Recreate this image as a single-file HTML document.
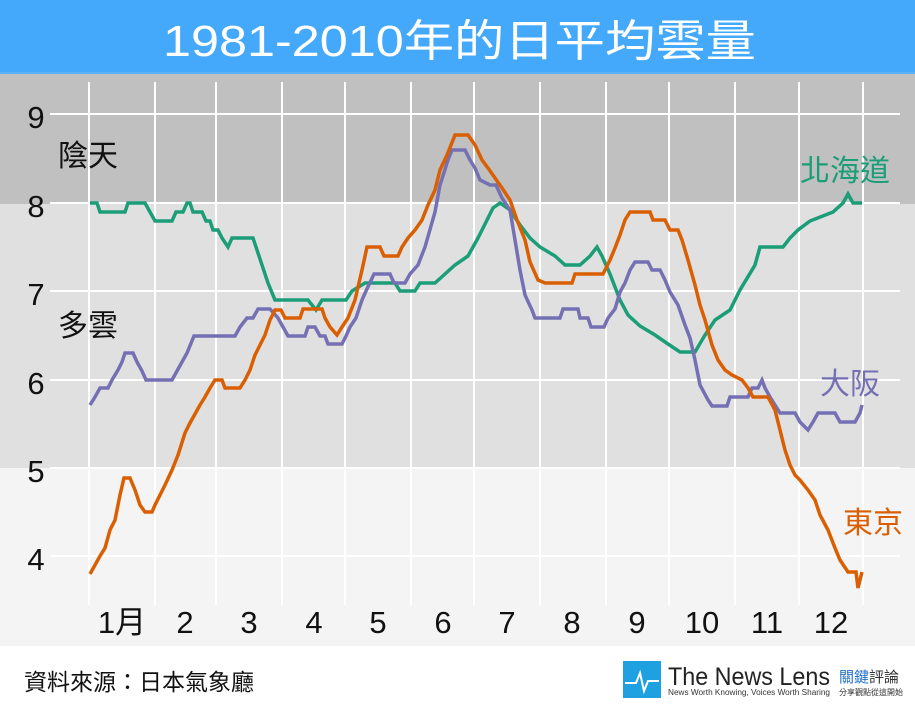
<!DOCTYPE html>
<html><head><meta charset="utf-8"><style>
html,body{margin:0;padding:0;background:#fff;}
svg{display:block;}
text{font-family:"Liberation Sans","Noto Sans CJK TC",sans-serif;}
</style></head><body>
<svg width="915" height="714" viewBox="0 0 915 714" xmlns="http://www.w3.org/2000/svg">
<rect x="0" y="0" width="915" height="73" fill="#44a8fb"/>
<rect x="0" y="72" width="915" height="2" fill="#5ab2f5"/>
<text x="163" y="56" font-size="44" fill="#fff" textLength="593" lengthAdjust="spacingAndGlyphs">1981-2010年的日平均雲量</text>
<rect x="0" y="74" width="915" height="130" fill="#c0c0c0"/>
<rect x="0" y="204" width="915" height="264" fill="#e0e0e0"/>
<rect x="0" y="468" width="915" height="178" fill="#f4f4f4"/>
<g stroke="#fff" stroke-width="2">
<line x1="50" y1="114" x2="900" y2="114"/><line x1="50" y1="203" x2="900" y2="203"/>
<line x1="50" y1="291" x2="900" y2="291"/><line x1="50" y1="380" x2="900" y2="380"/>
<line x1="50" y1="468" x2="900" y2="468"/><line x1="50" y1="556" x2="900" y2="556"/>
<line x1="89" y1="82" x2="89" y2="605"/><line x1="155" y1="82" x2="155" y2="605"/>
<line x1="216" y1="82" x2="216" y2="605"/><line x1="282" y1="82" x2="282" y2="605"/>
<line x1="345" y1="82" x2="345" y2="605"/><line x1="411" y1="82" x2="411" y2="605"/>
<line x1="474" y1="82" x2="474" y2="605"/><line x1="540" y1="82" x2="540" y2="605"/>
<line x1="606" y1="82" x2="606" y2="605"/><line x1="669" y1="82" x2="669" y2="605"/>
<line x1="735" y1="82" x2="735" y2="605"/><line x1="799" y1="82" x2="799" y2="605"/>
<line x1="863" y1="82" x2="863" y2="605"/>
</g>
<g font-size="31" fill="#111" text-anchor="middle">
<text x="36" y="128">9</text><text x="36" y="217">8</text><text x="36" y="305">7</text>
<text x="36" y="394">6</text><text x="36" y="482">5</text><text x="36" y="570">4</text>
<text x="122" y="633">1月</text><text x="185" y="633">2</text><text x="249" y="633">3</text>
<text x="314" y="633">4</text><text x="378" y="633">5</text><text x="443" y="633">6</text>
<text x="507" y="633">7</text><text x="572" y="633">8</text><text x="637" y="633">9</text>
<text x="702" y="633">10</text><text x="767" y="633">11</text><text x="831" y="633">12</text>
</g>
<text x="58" y="166" font-size="30" fill="#111">陰天</text>
<text x="58" y="336" font-size="30" fill="#111">多雲</text>
<g fill="none" stroke-width="3.5" stroke-linejoin="miter">
<polyline stroke="#1b9e77" points="90,203 97,203 100,212 125,212 128,203 145,203 150,212 155,221 172,221 176,212 183,212 187,203 190,203 193,212 202,212 206,221 210,221 213,230 218,230 222,238 228,247 232,238 253,238 256,247 262,265 268,283 275,300 308,300 316,310 322,300 346,300 352,291 365,283 395,283 400,291 415,291 420,283 435,283 445,274 455,265 468,256 478,238 493,208 500,203 510,210 520,225 530,238 540,247 555,256 565,265 580,265 590,256 597,247 602,256 610,274 620,300 628,315 640,326 655,335 668,344 680,352 695,352 705,335 715,320 730,310 740,290 755,265 760,247 783,247 790,238 798,230 810,221 833,212 843,203 848,194 853,203 862,203"/>
<polyline stroke="#7570b3" points="90,405 95,397 100,388 108,388 112,380 118,370 122,362 125,353 133,353 137,362 142,371 146,380 172,380 177,371 182,362 187,353 194,336 235,336 240,327 247,318 253,318 258,309 270,309 278,318 283,327 288,336 305,336 308,327 315,327 320,336 325,336 328,344 342,344 346,336 350,327 356,318 362,300 366,291 374,274 390,274 394,283 405,283 410,274 418,265 425,247 435,212 440,185 448,160 452,150 465,150 470,160 475,168 480,180 490,185 496,185 502,198 510,210 515,240 520,270 525,295 532,310 535,318 560,318 563,309 578,309 580,318 588,318 591,327 604,327 608,318 615,309 620,292 625,283 630,270 635,262 648,262 652,270 660,270 665,280 670,292 678,305 685,325 690,338 695,360 700,385 708,400 712,406 727,406 730,397 748,397 752,388 758,388 762,380 765,388 770,397 775,405 780,413 795,413 800,422 808,430 813,422 818,413 835,413 840,422 855,422 860,413 862,405"/>
<polyline stroke="#d95f02" points="90,574 95,565 100,556 105,548 110,530 115,520 120,495 124,478 130,478 135,490 140,505 145,512 152,512 155,505 160,495 165,485 172,470 178,455 185,433 190,423 195,414 200,405 205,397 210,388 215,380 222,380 225,388 240,388 245,380 250,370 255,355 260,345 265,335 270,320 275,310 281,310 285,318 300,318 303,309 322,309 325,318 330,327 337,335 342,327 348,318 355,300 362,270 367,247 380,247 384,256 398,256 402,247 408,238 415,230 422,220 428,205 435,190 440,170 447,155 455,135 468,135 475,145 482,160 488,168 495,178 502,188 510,200 517,220 525,240 530,262 538,280 545,283 572,283 575,274 603,274 610,260 615,248 620,235 625,220 630,212 650,212 653,220 665,220 670,230 678,230 682,240 688,260 695,285 700,305 705,320 712,345 718,360 725,370 732,375 742,380 748,388 753,397 768,397 775,410 780,430 785,450 790,465 795,475 800,480 808,490 815,500 820,515 828,530 835,548 840,560 848,572 856,572 858,588 862,572"/>
</g>
<text x="800" y="181" font-size="30" fill="#1b9e77">北海道</text>
<text x="820" y="394" font-size="30" fill="#7570b3">大阪</text>
<text x="843" y="533" font-size="30" fill="#d95f02">東京</text>
<text x="24" y="690" font-size="23" fill="#111">資料來源：日本氣象廳</text>
<rect x="623" y="661" width="38" height="37" fill="#1fa0e0"/>
<polyline points="625,683 636,683 640,673 644,691 648,681 659,681" fill="none" stroke="#fff" stroke-width="2"/>
<text x="668" y="685" font-size="25" fill="#222" textLength="162" lengthAdjust="spacingAndGlyphs">The News Lens</text>
<text x="668" y="695" font-size="8" fill="#333" textLength="162" lengthAdjust="spacingAndGlyphs">News Worth Knowing, Voices Worth Sharing</text>
<text x="839" y="682" font-size="15" fill="#1f6fd0">關鍵<tspan fill="#333">評論</tspan></text>
<text x="839" y="695" font-size="8" fill="#333">分享觀點從這開始</text>
</svg>
</body></html>
